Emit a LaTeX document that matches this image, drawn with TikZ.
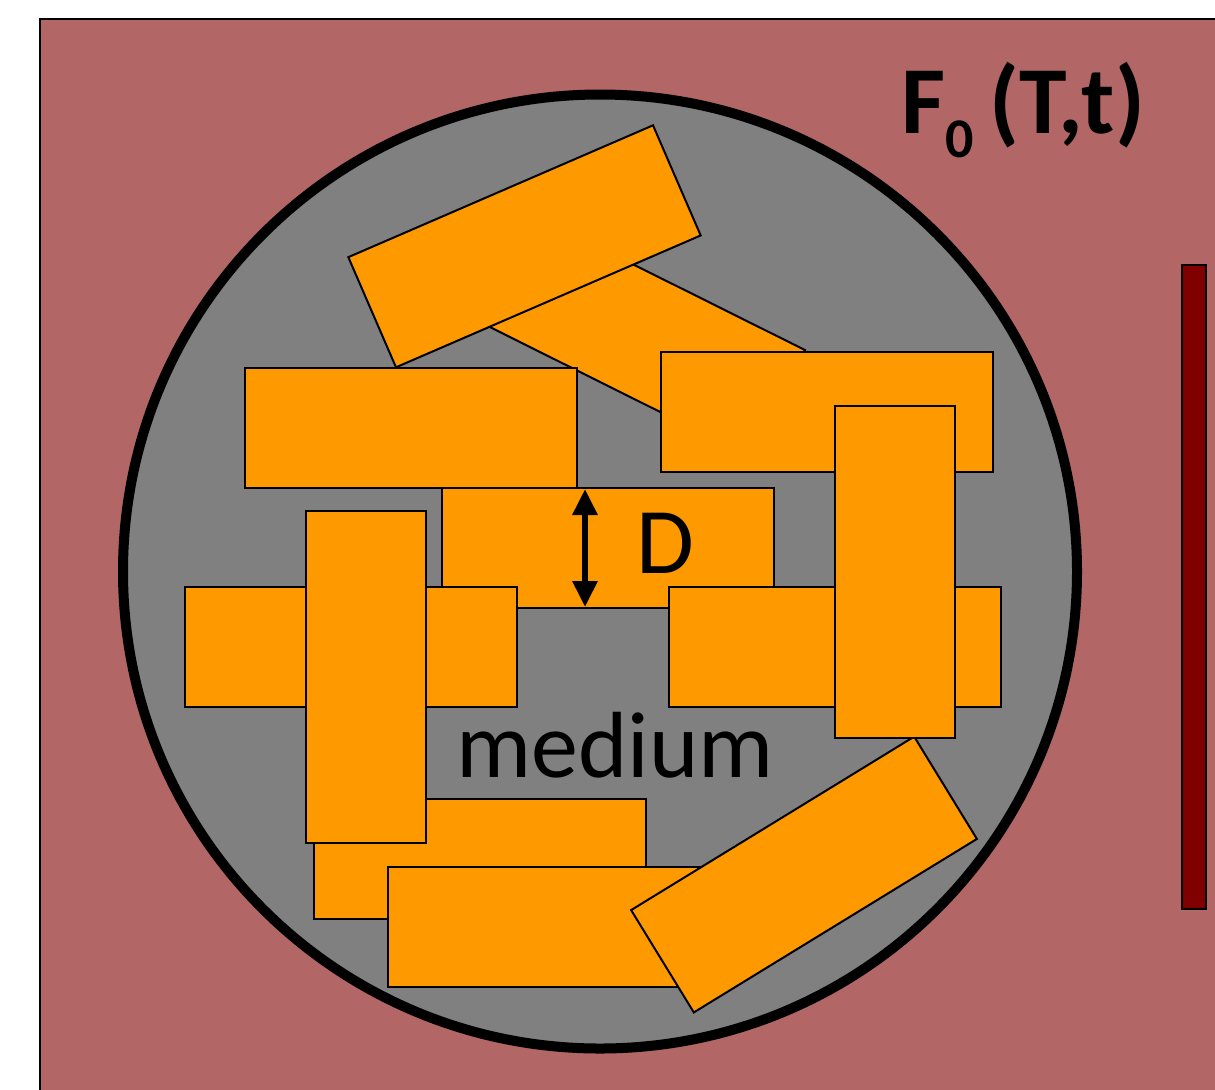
\documentclass[tikz,border=0pt]{standalone}
\usepackage{fontspec}
\setmainfont{Carlito}
\usetikzlibrary{arrows.meta}

\definecolor{matrixred}{RGB}{179,102,102}
\definecolor{poregray}{RGB}{128,128,128}
\definecolor{grainorange}{RGB}{255,153,0}
\definecolor{bardark}{RGB}{128,0,0}

\begin{document}
\begin{tikzpicture}[
    x=0.5pt, y=-0.5pt,
    >={Triangle[width=12pt,length=13pt]},
    font=\fontsize{47}{56}\selectfont,
    grain/.style={draw=black, fill=grainorange, line width=1pt, rectangle, minimum width=166pt, minimum height=60pt, inner sep=0pt},
    grainv/.style={grain, minimum width=60pt, minimum height=166pt},
    sample/.style={draw=black, fill=poregray, line width=5pt, circle, minimum size=477pt, inner sep=0pt},
    bar/.style={draw=black, fill=bardark, line width=1pt, rectangle, minimum width=12pt, minimum height=322pt, inner sep=0pt},
    dim/.style={<->, line width=3pt}
]
\useasboundingbox (0,0) rectangle (1215,1089);
\clip (0,0) rectangle (1215,1089);

% Furnace
\draw[fill=matrixred, line width=1pt] (40,19) rectangle (1240,1110);
\node[bar] (heater) at (1194,587) {};
\node[anchor=base west, inner sep=0pt] (temp) at (901,133)
    {\fontsize{48}{56}\selectfont\bfseries F\raisebox{-12pt}{\fontsize{28}{28}\selectfont 0}\hspace{8pt}(T,t)};

% Sample
\node[sample] (sample) at (600,571.5) {};

% Grains
\node[grain, rotate=-26.5] (g1) at (629.7,329.7) {};
\node[grain, rotate=23.4] (g2) at (524.5,246.3) {};
\node[grain] (g3) at (411,427.5) {};
\node[grain] (g4) at (827,412) {};
\node[grain] (g5) at (607.5,548) {};
\node[grain] (g10) at (479.5,858.5) {};
\node[grain] (g11) at (554,926.5) {};
\node[grain, rotate=31.5] (g12) at (804,874.5) {};
\node[grain] (g6) at (350.5,647) {};
\node[grainv] (g7) at (365.5,677) {};
\node[grain] (g8) at (834.5,647) {};
\node[grainv] (g9) at (895,571.5) {};

% Labels
\coordinate (dx) at (585,0);
\draw[dim, shorten >=1pt, shorten <=1pt] (g5.north -| dx) -- (g5.south -| dx);
\node[anchor=base, inner sep=0pt] (dlabel) at (665,573) {D};
\node[anchor=base, inner sep=0pt] (medium) at (615,777) {medium};
\end{tikzpicture}
\end{document}
